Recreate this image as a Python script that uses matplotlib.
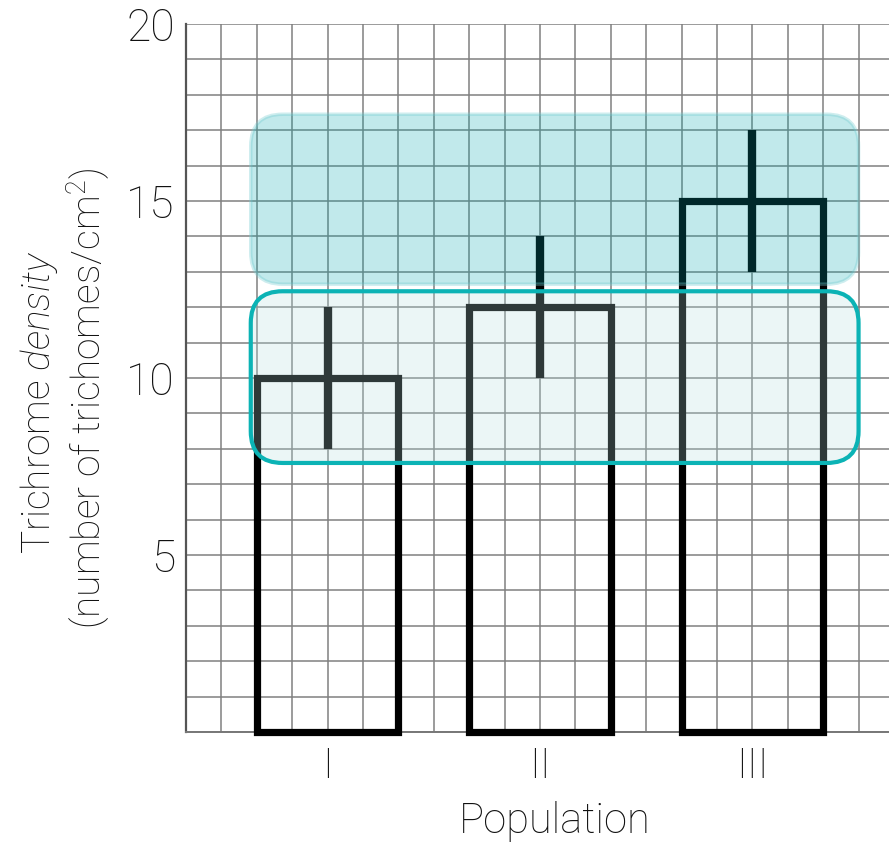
import matplotlib
matplotlib.use("Agg")
import matplotlib.pyplot as plt
from matplotlib.patches import FancyBboxPatch
from matplotlib.ticker import MultipleLocator

# trichome density per population (mean and error half-range)
populations = ["I", "II", "III"]
bar_pos = [4, 10, 16]
density = [10, 12, 15]
density_err = [2, 2, 2]

plt.rcParams["font.family"] = ["Roboto", "DejaVu Sans"]
plt.rcParams["font.weight"] = "light"
plt.rcParams["text.color"] = "#111111"
plt.rcParams["xtick.color"] = "#111111"
plt.rcParams["ytick.color"] = "#111111"
plt.rcParams["mathtext.fontset"] = "custom"
plt.rcParams["mathtext.rm"] = "Roboto:light"
plt.rcParams["mathtext.it"] = "Roboto:italic:light"
plt.rcParams["mathtext.default"] = "regular"

fig = plt.figure(figsize=(8.89, 8.5), dpi=100)
ax = fig.add_axes([0.2092, 0.1388, 0.7908, 0.833])
ax.set_xlim(0, 19.86)
ax.set_ylim(0, 20)

# graph-paper grid, one line per unit
ax.xaxis.set_minor_locator(MultipleLocator(1))
ax.yaxis.set_minor_locator(MultipleLocator(1))
ax.grid(which="both", color="#808080", linewidth=1.3, alpha=0.85)
ax.set_axisbelow(True)
ax.tick_params(which="both", length=0)
ax.spines["right"].set_visible(False)
ax.spines["top"].set_visible(False)
ax.spines["left"].set_color("#555555")
ax.spines["left"].set_linewidth(1.6)
ax.spines["bottom"].set_color("#777777")
ax.spines["bottom"].set_linewidth(1.4)

ax.bar(bar_pos, density, width=4, fill=False, edgecolor="black",
       linewidth=5.2, clip_on=False, zorder=3)
ax.errorbar(bar_pos, density, yerr=density_err, fmt="none", ecolor="black",
            elinewidth=6, capsize=0, zorder=4)

# highlight boxes laid over the bars
upper = FancyBboxPatch((1.83, 12.65), 17.17, 4.8,
                       boxstyle="round,pad=0,rounding_size=0.9",
                       facecolor=(0.0, 0.66, 0.68, 0.245),
                       edgecolor=(0.45, 0.80, 0.82, 0.35), linewidth=2.5, zorder=5)
lower = FancyBboxPatch((1.83, 7.6), 17.17, 4.85,
                       boxstyle="round,pad=0,rounding_size=0.9",
                       facecolor=(0.70, 0.88, 0.88, 0.26),
                       edgecolor="#0bb3b5", linewidth=3, zorder=5)
ax.add_patch(upper)
ax.add_patch(lower)

ax.set_yticks([5, 10, 15, 20])
ax.set_yticklabels(["5", "10", "15", "20"], fontsize=32)
ax.tick_params(axis="y", pad=8)
ax.set_xticks(bar_pos)
ax.set_xticklabels(populations, fontsize=30)
ax.tick_params(axis="x", pad=10)

fig.text(0.624, 0.033, "Population", fontsize=30, ha="center", va="center")
fig.text(50 / 889, 1 - 402 / 850, r"Trichrome $\mathit{density}$", fontsize=28,
         rotation=90, rotation_mode="anchor", ha="center", va="baseline")
fig.text(102 / 889, 1 - 398 / 850, r"(number of trichomes/cm$^2$)", fontsize=28,
         rotation=90, rotation_mode="anchor", ha="center", va="baseline")

fig.savefig("out.png", dpi=100)
